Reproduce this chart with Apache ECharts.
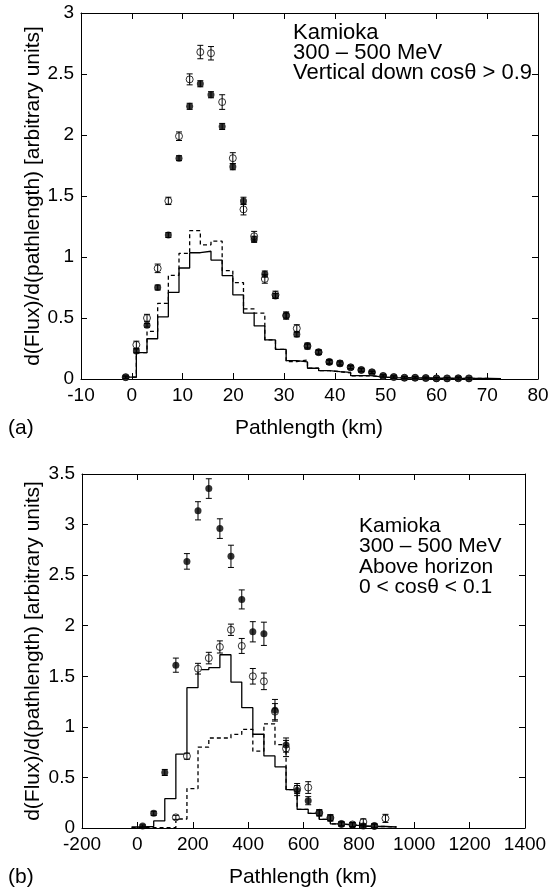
<!DOCTYPE html>
<html>
<head>
<meta charset="utf-8">
<script src="https://cdn.jsdelivr.net/npm/echarts@6/dist/echarts.min.js"></script>
<style>
html,body{margin:0;padding:0;background:#fff;}
#chart{width:555px;height:890px;}
</style>
</head>
<body>
<div id="chart"></div>
<script>
// ---------- Panel (a): Kamioka, vertical down ----------
const aEdges = [-1.2, 0.9, 3.0, 5.1, 7.2, 9.3, 11.4, 13.5, 15.6, 17.8, 19.9, 22.0, 24.1, 26.2, 28.3, 30.4, 32.5, 34.6, 36.8, 38.9, 41.0, 43.1, 45.2, 47.3, 49.5, 51.6, 53.7, 55.8, 57.9, 60.0, 62.1, 64.3, 66.4, 68.5, 70.6, 72.7];
const aSolid = [0.015, 0.216, 0.33, 0.51, 0.71, 0.91, 1.035, 1.047, 0.975, 0.847, 0.69, 0.54, 0.435, 0.32, 0.243, 0.15, 0.14, 0.088, 0.068, 0.06, 0.055, 0.027, 0.027, 0.015, 0.012, 0.01, 0.008, 0.008, 0.006, 0.006, 0.005, 0.005, 0.004, 0.004, 0.003];
const aDashed = [0.015, 0.216, 0.39, 0.62, 0.85, 1.03, 1.216, 1.10, 1.13, 0.888, 0.79, 0.574, 0.54, 0.32, 0.243, 0.142, 0.156, 0.088, 0.068, 0.06, 0.05, 0.025, 0.027, 0.015, 0.012, 0.01, 0.008, 0.008, 0.006, 0.006, 0.005, 0.005, 0.004, 0.004, 0.003];
const aPtX = [-1.2, 0.9, 3.0, 5.1, 7.2, 9.3, 11.4, 13.5, 15.6, 17.8, 19.9, 22.0, 24.1, 26.2, 28.3, 30.4, 32.5, 34.6, 36.8, 38.9, 41.0, 43.1, 45.2, 47.3, 49.5, 51.6, 53.7, 55.8, 57.9, 60.0, 62.1, 64.3, 66.4];
const aOpen = [0.015, 0.28, 0.50, 0.907, 1.46, 1.99, 2.456, 2.68, 2.67, 2.27, 1.81, 1.39, 1.17, 0.82, 0.69, 0.52, 0.415, 0.27, 0.22, 0.14, 0.128, 0.096, 0.074, 0.055, 0.025, 0.016, 0.01, 0.01, 0.008, 0.005, 0.005, 0.006, 0.005];
const aOpenErr = [0.01, 0.03, 0.03, 0.035, 0.03, 0.035, 0.045, 0.055, 0.055, 0.06, 0.045, 0.045, 0.04, 0.035, 0.03, 0.03, 0.03, 0.025, 0.02, 0.02, 0.02, 0.015, 0.015, 0.01, 0.01, 0.01, 0.01, 0.01, 0.008, 0.008, 0.008, 0.012, 0.008];
const aFilled = [0.015, 0.23, 0.44, 0.75, 1.18, 1.81, 2.235, 2.42, 2.33, 2.07, 1.74, 1.46, 1.145, 0.86, 0.68, 0.52, 0.366, 0.27, 0.22, 0.14, 0.128, 0.096, 0.074, 0.055, 0.025, 0.016, 0.01, 0.01, 0.008, 0.005, 0.005, 0.006, 0.005];
const aFilledErr = [0.008, 0.015, 0.015, 0.02, 0.02, 0.02, 0.025, 0.025, 0.025, 0.025, 0.025, 0.03, 0.025, 0.025, 0.02, 0.02, 0.02, 0.015, 0.015, 0.012, 0.012, 0.01, 0.01, 0.008, 0.008, 0.008, 0.006, 0.006, 0.006, 0.006, 0.006, 0.006, 0.006];
const aXTicks = {min: -10, max: 80, interval: 10};
const aYTicks = {min: 0, max: 3, interval: 0.5};

// ---------- Panel (b): Kamioka, above horizon ----------
const bEdges = [-21, 19, 59, 99, 139, 179, 219, 258, 298, 338, 377, 417, 457, 497, 537, 577, 617, 657, 697, 737, 777, 816, 856, 896, 936];
const bSolid = [0.01, 0.015, 0.07, 0.29, 0.73, 1.387, 1.565, 1.585, 1.713, 1.443, 1.19, 0.927, 0.713, 0.605, 0.38, 0.184, 0.145, 0.086, 0.04, 0.03, 0.02, 0.015, 0.015, 0.01];
const bDashed = [0.003, 0.003, 0.003, 0.003, 0.089, 0.39, 0.80, 0.89, 0.89, 0.925, 0.976, 0.76, 1.03, 0.825, 0.38, 0.184, 0.145, 0.086, 0.04, 0.03, 0.02, 0.015, 0.015, 0.01];
const bPtX = [19, 59, 99, 139, 179, 219, 258, 298, 338, 377, 417, 457, 497, 537, 577, 617, 657, 697, 737, 777, 816, 856, 896];
const bFilled = [0.02, 0.145, 0.549, 1.61, 2.636, 3.136, 3.356, 2.96, 2.686, 2.26, 1.94, 1.92, 1.164, 0.82, 0.37, 0.27, 0.15, 0.10, 0.04, 0.03, 0.02, 0.02, null];
const bFilledErr = [0.01, 0.02, 0.03, 0.07, 0.077, 0.09, 0.097, 0.097, 0.11, 0.094, 0.1, 0.115, 0.107, 0.07, 0.05, 0.04, 0.03, 0.03, 0.02, 0.02, 0.02, 0.02, null];
const bOpen = [null, null, null, 0.105, 0.71, 1.575, 1.68, 1.79, 1.96, 1.80, 1.50, 1.45, 1.15, 0.786, 0.39, 0.40, 0.15, 0.10, 0.04, 0.035, 0.06, 0.02, 0.095];
const bOpenErr = [null, null, null, 0.02, 0.03, 0.053, 0.057, 0.06, 0.056, 0.074, 0.077, 0.082, 0.08, 0.08, 0.05, 0.058, 0.03, 0.03, 0.02, 0.02, 0.03, 0.02, 0.04];
const bXTicks = {min: -200, max: 1400, interval: 200};
const bYTicks = {min: 0, max: 3.5, interval: 0.5};

const yTitle = 'd(Flux)/d(pathlength) [arbitrary units]';
const xTitle = 'Pathlength (km)';
const aNotes = ['Kamioka', '300 \u2013 500 MeV', 'Vertical down cos\u03b8 > 0.9'];
const bNotes = ['Kamioka', '300 \u2013 500 MeV', 'Above horizon', '0 < cos\u03b8 < 0.1'];

const FONT = '"Liberation Sans", Arial, Helvetica, sans-serif';

function stepData(edges, vals) {
  return edges.map((e, i) => [e, i < vals.length ? vals[i] : vals[vals.length - 1]]);
}
function ptData(xs, ys, es) {
  const out = [];
  xs.forEach((x, i) => { if (ys[i] != null) out.push([x, ys[i], es ? es[i] : 0]); });
  return out;
}
function errRender(params, api) {
  const x = api.value(0), y = api.value(1), e = api.value(2);
  const t = api.coord([x, y + e]), b = api.coord([x, y - e]);
  const w = 3;
  const st = {stroke: '#000', lineWidth: 1};
  return {type: 'group', children: [
    {type: 'line', shape: {x1: t[0], y1: t[1], x2: b[0], y2: b[1]}, style: st},
    {type: 'line', shape: {x1: t[0] - w, y1: t[1], x2: t[0] + w, y2: t[1]}, style: st},
    {type: 'line', shape: {x1: b[0] - w, y1: b[1], x2: b[0] + w, y2: b[1]}, style: st}
  ]};
}
const plainNum = v => String(v);

function xAxes(grid, t) {
  const base = {type: 'value', gridIndex: grid, min: t.min, max: t.max, interval: t.interval,
    axisLine: {show: true, onZero: false, lineStyle: {color: '#000', width: 1}},
    axisTick: {show: true, inside: true, length: 6, lineStyle: {color: '#000'}},
    splitLine: {show: false}};
  return [
    Object.assign({}, base, {position: 'bottom', axisLabel: {show: true, color: '#000', fontSize: 19, fontFamily: FONT, margin: 7, formatter: plainNum}}),
    Object.assign({}, base, {position: 'top', axisLabel: {show: false}})
  ];
}
function yAxes(grid, t) {
  const base = {type: 'value', gridIndex: grid, min: t.min, max: t.max, interval: t.interval,
    axisLine: {show: true, onZero: false, lineStyle: {color: '#000', width: 1}},
    axisTick: {show: true, inside: true, length: 6, lineStyle: {color: '#000'}},
    splitLine: {show: false}};
  return [
    Object.assign({}, base, {position: 'left', axisLabel: {show: true, color: '#000', fontSize: 19, fontFamily: FONT, margin: 7, formatter: plainNum}}),
    Object.assign({}, base, {position: 'right', axisLabel: {show: false}})
  ];
}

function panelSeries(xi, yi, edges, solid, dashed, ptX, open, openErr, filled, filledErr) {
  return [
    {type: 'line', xAxisIndex: xi, yAxisIndex: yi, step: 'end', showSymbol: false, silent: true,
      data: stepData(edges, solid), lineStyle: {color: '#000', width: 1.3}, z: 2},
    {type: 'line', xAxisIndex: xi, yAxisIndex: yi, step: 'end', showSymbol: false, silent: true,
      data: stepData(edges, dashed), lineStyle: {color: '#000', width: 1.3, type: [4, 3]}, z: 2},
    {type: 'scatter', xAxisIndex: xi, yAxisIndex: yi, symbol: 'circle', symbolSize: 7,
      data: ptData(ptX, open), itemStyle: {color: '#fff', borderColor: '#000', borderWidth: 1}, z: 3},
    {type: 'custom', xAxisIndex: xi, yAxisIndex: yi, renderItem: errRender,
      data: ptData(ptX, open, openErr), z: 4},
    {type: 'custom', xAxisIndex: xi, yAxisIndex: yi, renderItem: errRender,
      data: ptData(ptX, filled, filledErr), z: 4},
    {type: 'scatter', xAxisIndex: xi, yAxisIndex: yi, symbol: 'circle', symbolSize: 7,
      data: ptData(ptX, filled), itemStyle: {color: '#000'}, z: 5}
  ];
}

function txt(x, y, s, size, align, rot) {
  const el = {type: 'text', x: x, y: y, silent: true,
    style: {text: s, fill: '#000', font: size + 'px ' + FONT, align: align || 'left', verticalAlign: 'middle'}};
  if (rot) el.rotation = rot;
  return el;
}

const graphics = [];
aNotes.forEach((s, i) => graphics.push(txt(293, 33 + i * 20, s, 22)));
bNotes.forEach((s, i) => graphics.push(txt(359, 526 + i * 20.5, s, 21)));
graphics.push(txt(309, 428, xTitle, 21, 'center'));
graphics.push(txt(303, 877, xTitle, 21, 'center'));
graphics.push(txt(8, 428, '(a)', 21));
graphics.push(txt(8, 877, '(b)', 21));
graphics.push(txt(33, 196, yTitle, 21, 'center', Math.PI / 2));
graphics.push(txt(33, 651, yTitle, 21, 'center', Math.PI / 2));

const chart = echarts.init(document.getElementById('chart'), null, {renderer: 'canvas'});
chart.setOption({
  animation: false,
  backgroundColor: '#fff',
  grid: [
    {left: 81, top: 13, width: 457, height: 366},
    {left: 82, top: 474, width: 443, height: 354}
  ],
  xAxis: xAxes(0, aXTicks).concat(xAxes(1, bXTicks)),
  yAxis: yAxes(0, aYTicks).concat(yAxes(1, bYTicks)),
  series: panelSeries(0, 0, aEdges, aSolid, aDashed, aPtX, aOpen, aOpenErr, aFilled, aFilledErr)
    .concat(panelSeries(2, 2, bEdges, bSolid, bDashed, bPtX, bOpen, bOpenErr, bFilled, bFilledErr)),
  graphic: graphics
});
</script>
</body>
</html>
